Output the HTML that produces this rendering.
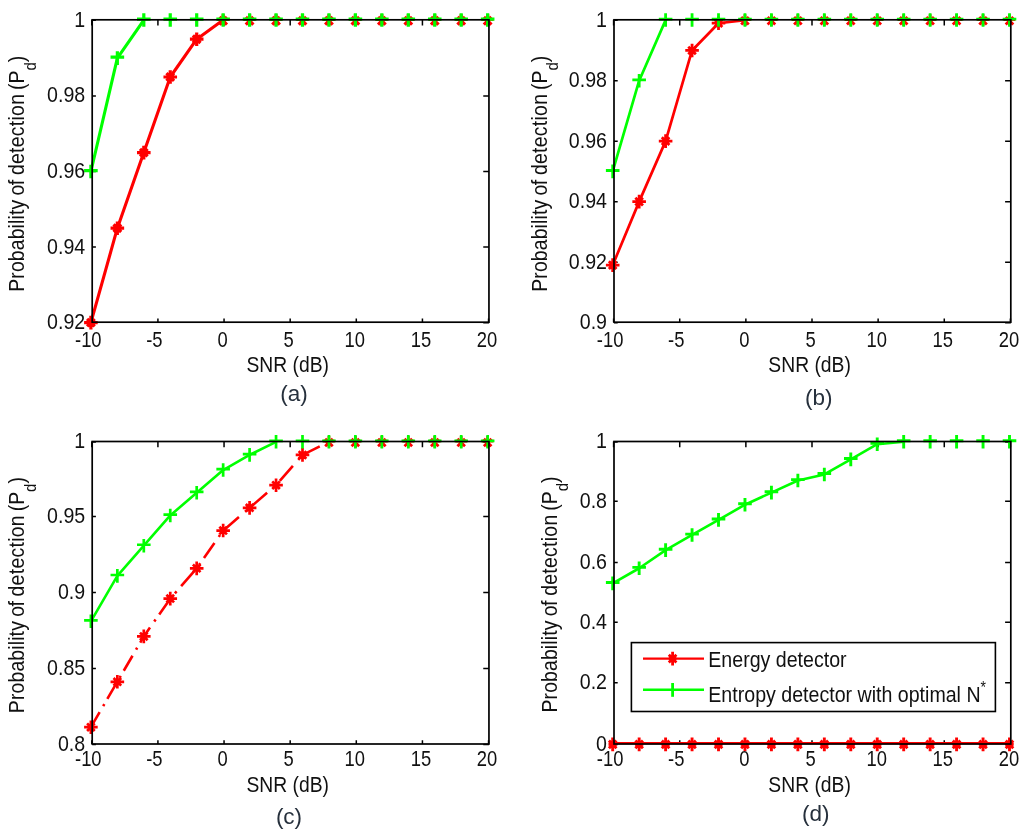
<!DOCTYPE html>
<html><head><meta charset="utf-8"><title>Probability of detection vs SNR</title>
<style>
html,body{margin:0;padding:0;background:#fff;}
body{width:1024px;height:836px;overflow:hidden;}
svg{display:block;will-change:transform;}
text{font-family:"Liberation Sans",sans-serif;fill:#111;}
</style></head><body>
<svg width="1024" height="836" viewBox="0 0 1024 836">
<rect width="1024" height="836" fill="#fff"/>
<g id="plot-a">
<path d="M91.8 322.2v-3.7 M91.8 19.8v5.7 M157.92 322.2v-3.7 M157.92 19.8v5.7 M224.05 322.2v-3.7 M224.05 19.8v5.7 M290.18 322.2v-3.7 M290.18 19.8v5.7 M356.3 322.2v-3.7 M356.3 19.8v5.7 M422.43 322.2v-3.7 M422.43 19.8v5.7 M488.55 322.2v-3.7 M488.55 19.8v5.7 M92.2 322.7h3.7 M488.95 322.7h-5.7 M92.2 247.1h3.7 M488.95 247.1h-5.7 M92.2 171.5h3.7 M488.95 171.5h-5.7 M92.2 95.9h3.7 M488.95 95.9h-5.7 M92.2 20.3h3.7 M488.95 20.3h-5.7" fill="none" stroke="#000" stroke-width="1.5"/>
<path d="M90.9 322.7 L117.35 228.2 L143.8 152.6 L170.25 77 L196.7 39.2 L223.15 20.1" fill="none" stroke="#ff0000" stroke-width="3.1" stroke-linejoin="round"/>
<path d="M90.9 171.5 L117.35 58.1 L143.8 20.1" fill="none" stroke="#00ff00" stroke-width="3.1" stroke-linejoin="round"/>
<path d="M90.9 315.8v13.6 M84.1 322.6h13.6 M87.1 318.8l7.6 7.6 M87.1 326.4l7.6 -7.6 M117.35 221.4v13.6 M110.55 228.2h13.6 M113.55 224.4l7.6 7.6 M113.55 232l7.6 -7.6 M143.8 145.8v13.6 M137 152.6h13.6 M140 148.8l7.6 7.6 M140 156.4l7.6 -7.6 M170.25 70.2v13.6 M163.45 77h13.6 M166.45 73.2l7.6 7.6 M166.45 80.8l7.6 -7.6 M196.7 32.4v13.6 M189.9 39.2h13.6 M192.9 35.4l7.6 7.6 M192.9 43l7.6 -7.6 M223.15 14.2v11.6 M217.35 19.5h11.6 M219.35 17l7.6 7.6 M219.35 24.6l7.6 -7.6 M249.6 14.2v11.6 M243.8 19.5h11.6 M245.8 17l7.6 7.6 M245.8 24.6l7.6 -7.6 M276.05 14.2v11.6 M270.25 19.5h11.6 M272.25 17l7.6 7.6 M272.25 24.6l7.6 -7.6 M302.5 14.2v11.6 M296.7 19.5h11.6 M298.7 17l7.6 7.6 M298.7 24.6l7.6 -7.6 M328.95 14.2v11.6 M323.15 19.5h11.6 M325.15 17l7.6 7.6 M325.15 24.6l7.6 -7.6 M355.4 14.2v11.6 M349.6 19.5h11.6 M351.6 17l7.6 7.6 M351.6 24.6l7.6 -7.6 M381.85 14.2v11.6 M376.05 19.5h11.6 M378.05 17l7.6 7.6 M378.05 24.6l7.6 -7.6 M408.3 14.2v11.6 M402.5 19.5h11.6 M404.5 17l7.6 7.6 M404.5 24.6l7.6 -7.6 M434.75 14.2v11.6 M428.95 19.5h11.6 M430.95 17l7.6 7.6 M430.95 24.6l7.6 -7.6 M461.2 14.2v11.6 M455.4 19.5h11.6 M457.4 17l7.6 7.6 M457.4 24.6l7.6 -7.6 M487.65 14.2v11.6 M481.85 19.5h11.6 M483.85 17l7.6 7.6 M483.85 24.6l7.6 -7.6" fill="none" stroke="#ff0000" stroke-width="3.2"/>
<path d="M90.9 164.7v13.6 M84.1 170.6h13.6 M117.35 51.3v13.6 M110.55 57.2h13.6 M143.8 13.2v13.6 M137 19.1h13.6 M170.25 13.2v13.6 M163.45 19.1h13.6 M196.7 13.2v13.6 M189.9 19.1h13.6 M223.15 13.2v13.6 M216.35 19.1h13.6 M249.6 13.2v13.6 M242.8 19.1h13.6 M276.05 13.2v13.6 M269.25 19.1h13.6 M302.5 13.2v13.6 M295.7 19.1h13.6 M328.95 13.2v13.6 M322.15 19.1h13.6 M355.4 13.2v13.6 M348.6 19.1h13.6 M381.85 13.2v13.6 M375.05 19.1h13.6 M408.3 13.2v13.6 M401.5 19.1h13.6 M434.75 13.2v13.6 M427.95 19.1h13.6 M461.2 13.2v13.6 M454.4 19.1h13.6 M487.65 13.2v13.6 M480.85 19.1h13.6" fill="none" stroke="#00ff00" stroke-width="3.2"/>
<rect x="92.2" y="19.8" width="396.75" height="302.4" fill="none" stroke="#000" stroke-width="1.7"/>
<text transform="translate(88.3 346.6) scale(1 1.17)" font-size="18.4" text-anchor="middle">-10</text>
<text transform="translate(154.42 346.6) scale(1 1.17)" font-size="18.4" text-anchor="middle">-5</text>
<text transform="translate(222.55 346.6) scale(1 1.17)" font-size="18.4" text-anchor="middle">0</text>
<text transform="translate(288.68 346.6) scale(1 1.17)" font-size="18.4" text-anchor="middle">5</text>
<text transform="translate(354.8 346.6) scale(1 1.17)" font-size="18.4" text-anchor="middle">10</text>
<text transform="translate(420.93 346.6) scale(1 1.17)" font-size="18.4" text-anchor="middle">15</text>
<text transform="translate(487.05 346.6) scale(1 1.17)" font-size="18.4" text-anchor="middle">20</text>
<text transform="translate(85.2 329.1) scale(1 1.16)" font-size="19.6" text-anchor="end">0.92</text>
<text transform="translate(85.2 253.5) scale(1 1.16)" font-size="19.6" text-anchor="end">0.94</text>
<text transform="translate(85.2 177.9) scale(1 1.16)" font-size="19.6" text-anchor="end">0.96</text>
<text transform="translate(85.2 102.3) scale(1 1.16)" font-size="19.6" text-anchor="end">0.98</text>
<text transform="translate(85.2 26.7) scale(1 1.16)" font-size="19.6" text-anchor="end">1</text>
<text transform="translate(287.77 372) scale(1 1.16)" font-size="19.3" text-anchor="middle">SNR (dB)</text>
<text transform="translate(294 401) scale(1 1.0)" font-size="22.5" text-anchor="middle" style="fill:#26303c">(a)</text>
<text transform="translate(24.4 291.8) rotate(-90) scale(1 1.12)" font-size="19.4" text-anchor="start"><tspan letter-spacing="0.15">Probability</tspan><tspan dx="-0.7" letter-spacing="-0.5"> of</tspan><tspan dx="-0.5" letter-spacing="0.3"> detection</tspan><tspan dx="-1.6"> (P</tspan><tspan font-size="15" dy="10">d</tspan><tspan dy="-10">)</tspan></text>
</g>
<g id="plot-b">
<path d="M613.6 322.2v-3.7 M613.6 19.8v5.7 M679.73 322.2v-3.7 M679.73 19.8v5.7 M745.87 322.2v-3.7 M745.87 19.8v5.7 M812 322.2v-3.7 M812 19.8v5.7 M878.13 322.2v-3.7 M878.13 19.8v5.7 M944.27 322.2v-3.7 M944.27 19.8v5.7 M1010.4 322.2v-3.7 M1010.4 19.8v5.7 M614 322.7h3.7 M1010.8 322.7h-5.7 M614 262.22h3.7 M1010.8 262.22h-5.7 M614 201.74h3.7 M1010.8 201.74h-5.7 M614 141.26h3.7 M1010.8 141.26h-5.7 M614 80.78h3.7 M1010.8 80.78h-5.7 M614 20.3h3.7 M1010.8 20.3h-5.7" fill="none" stroke="#000" stroke-width="1.5"/>
<path d="M612.7 265.14 L639.15 201.64 L665.61 141.16 L692.06 50.44 L718.51 23.22 L744.97 20.1" fill="none" stroke="#ff0000" stroke-width="2.7" stroke-linejoin="round"/>
<path d="M612.7 171.4 L639.15 80.68 L665.61 20.1" fill="none" stroke="#00ff00" stroke-width="2.7" stroke-linejoin="round"/>
<path d="M612.7 258.34v13.6 M605.9 265.14h13.6 M608.9 261.34l7.6 7.6 M608.9 268.94l7.6 -7.6 M639.15 194.84v13.6 M632.35 201.64h13.6 M635.35 197.84l7.6 7.6 M635.35 205.44l7.6 -7.6 M665.61 134.36v13.6 M658.81 141.16h13.6 M661.81 137.36l7.6 7.6 M661.81 144.96l7.6 -7.6 M692.06 43.64v13.6 M685.26 50.44h13.6 M688.26 46.64l7.6 7.6 M688.26 54.24l7.6 -7.6 M718.51 16.42v13.6 M711.71 23.22h13.6 M714.71 19.42l7.6 7.6 M714.71 27.02l7.6 -7.6 M744.97 14.2v11.6 M739.17 19.5h11.6 M741.17 17l7.6 7.6 M741.17 24.6l7.6 -7.6 M771.42 14.2v11.6 M765.62 19.5h11.6 M767.62 17l7.6 7.6 M767.62 24.6l7.6 -7.6 M797.87 14.2v11.6 M792.07 19.5h11.6 M794.07 17l7.6 7.6 M794.07 24.6l7.6 -7.6 M824.33 14.2v11.6 M818.53 19.5h11.6 M820.53 17l7.6 7.6 M820.53 24.6l7.6 -7.6 M850.78 14.2v11.6 M844.98 19.5h11.6 M846.98 17l7.6 7.6 M846.98 24.6l7.6 -7.6 M877.23 14.2v11.6 M871.43 19.5h11.6 M873.43 17l7.6 7.6 M873.43 24.6l7.6 -7.6 M903.69 14.2v11.6 M897.89 19.5h11.6 M899.89 17l7.6 7.6 M899.89 24.6l7.6 -7.6 M930.14 14.2v11.6 M924.34 19.5h11.6 M926.34 17l7.6 7.6 M926.34 24.6l7.6 -7.6 M956.59 14.2v11.6 M950.79 19.5h11.6 M952.79 17l7.6 7.6 M952.79 24.6l7.6 -7.6 M983.05 14.2v11.6 M977.25 19.5h11.6 M979.25 17l7.6 7.6 M979.25 24.6l7.6 -7.6 M1009.5 14.2v11.6 M1003.7 19.5h11.6 M1005.7 17l7.6 7.6 M1005.7 24.6l7.6 -7.6" fill="none" stroke="#ff0000" stroke-width="2.8"/>
<path d="M612.7 164.6v13.6 M605.9 170.5h13.6 M639.15 73.88v13.6 M632.35 79.78h13.6 M665.61 13.2v13.6 M658.81 19.1h13.6 M692.06 13.2v13.6 M685.26 19.1h13.6 M718.51 13.2v13.6 M711.71 19.1h13.6 M744.97 13.2v13.6 M738.17 19.1h13.6 M771.42 13.2v13.6 M764.62 19.1h13.6 M797.87 13.2v13.6 M791.07 19.1h13.6 M824.33 13.2v13.6 M817.53 19.1h13.6 M850.78 13.2v13.6 M843.98 19.1h13.6 M877.23 13.2v13.6 M870.43 19.1h13.6 M903.69 13.2v13.6 M896.89 19.1h13.6 M930.14 13.2v13.6 M923.34 19.1h13.6 M956.59 13.2v13.6 M949.79 19.1h13.6 M983.05 13.2v13.6 M976.25 19.1h13.6 M1009.5 13.2v13.6 M1002.7 19.1h13.6" fill="none" stroke="#00ff00" stroke-width="2.8"/>
<rect x="614" y="19.8" width="396.8" height="302.4" fill="none" stroke="#000" stroke-width="1.7"/>
<text transform="translate(610.1 346.6) scale(1 1.17)" font-size="18.4" text-anchor="middle">-10</text>
<text transform="translate(676.23 346.6) scale(1 1.17)" font-size="18.4" text-anchor="middle">-5</text>
<text transform="translate(744.37 346.6) scale(1 1.17)" font-size="18.4" text-anchor="middle">0</text>
<text transform="translate(810.5 346.6) scale(1 1.17)" font-size="18.4" text-anchor="middle">5</text>
<text transform="translate(876.63 346.6) scale(1 1.17)" font-size="18.4" text-anchor="middle">10</text>
<text transform="translate(942.77 346.6) scale(1 1.17)" font-size="18.4" text-anchor="middle">15</text>
<text transform="translate(1008.9 346.6) scale(1 1.17)" font-size="18.4" text-anchor="middle">20</text>
<text transform="translate(607 329.1) scale(1 1.16)" font-size="19.6" text-anchor="end">0.9</text>
<text transform="translate(607 268.62) scale(1 1.16)" font-size="19.6" text-anchor="end">0.92</text>
<text transform="translate(607 208.14) scale(1 1.16)" font-size="19.6" text-anchor="end">0.94</text>
<text transform="translate(607 147.66) scale(1 1.16)" font-size="19.6" text-anchor="end">0.96</text>
<text transform="translate(607 87.18) scale(1 1.16)" font-size="19.6" text-anchor="end">0.98</text>
<text transform="translate(607 26.7) scale(1 1.16)" font-size="19.6" text-anchor="end">1</text>
<text transform="translate(809.6 372) scale(1 1.16)" font-size="19.3" text-anchor="middle">SNR (dB)</text>
<text transform="translate(818.8 404.5) scale(1 1.0)" font-size="22.5" text-anchor="middle" style="fill:#26303c">(b)</text>
<text transform="translate(546.6 291.8) rotate(-90) scale(1 1.12)" font-size="19.4" text-anchor="start"><tspan letter-spacing="0.15">Probability</tspan><tspan dx="-0.7" letter-spacing="-0.5"> of</tspan><tspan dx="-0.5" letter-spacing="0.3"> detection</tspan><tspan dx="-1.6"> (P</tspan><tspan font-size="15" dy="10">d</tspan><tspan dy="-10">)</tspan></text>
</g>
<g id="plot-c">
<path d="M91.8 744v-3.7 M91.8 441.5v5.7 M157.92 744v-3.7 M157.92 441.5v5.7 M224.05 744v-3.7 M224.05 441.5v5.7 M290.18 744v-3.7 M290.18 441.5v5.7 M356.3 744v-3.7 M356.3 441.5v5.7 M422.43 744v-3.7 M422.43 441.5v5.7 M488.55 744v-3.7 M488.55 441.5v5.7 M92.2 744.5h3.7 M488.95 744.5h-5.7 M92.2 668.4h3.7 M488.95 668.4h-5.7 M92.2 592.5h3.7 M488.95 592.5h-5.7 M92.2 516.4h3.7 M488.95 516.4h-5.7 M92.2 442h3.7 M488.95 442h-5.7" fill="none" stroke="#000" stroke-width="1.5"/>
<path d="M90.9 727.17L99.64 712.17 M103.2 706.07L104.31 704.17 M107.34 698.97L116.08 683.97 M119.64 677.88L120.75 675.97 M123.78 670.77L132.52 655.77 M136.08 649.67L137.18 647.77 M140.22 642.57L143.8 636.42 M143.8 636.42L149.99 627.57 M154.26 621.47L155.59 619.57 M159.22 614.38L169.72 599.38 M174.92 593.27L176.58 591.38 M181.13 586.17L194.24 571.17 M199 565.07L200.33 563.17 M203.97 557.97L214.46 542.97 M218.73 536.88L220.05 534.97 M223.93 529.89L238.93 517.02 M245.03 511.79L246.93 510.16 M252.13 505.7L267.13 492.83 M273.23 487.6L275.13 485.97 M279.79 480.9L292.9 465.9 M298.24 459.8L299.9 457.9 M304.73 453.82L319.73 446.38 M325.83 443.35L327.73 442.41" fill="none" stroke="#ff0000" stroke-width="2.6" stroke-linejoin="round"/>
<path d="M90.9 621.3 L117.35 575.92 L143.8 545.67 L170.25 515.43 L196.7 492.74 L223.15 470.05 L249.6 454.93 L276.05 441.8" fill="none" stroke="#00ff00" stroke-width="2.6" stroke-linejoin="round"/>
<path d="M90.9 720.38v13.6 M84.1 727.17h13.6 M87.1 723.38l7.6 7.6 M87.1 730.97l7.6 -7.6 M117.35 675v13.6 M110.55 681.8h13.6 M113.55 678l7.6 7.6 M113.55 685.6l7.6 -7.6 M143.8 629.62v13.6 M137 636.42h13.6 M140 632.62l7.6 7.6 M140 640.22l7.6 -7.6 M170.25 591.81v13.6 M163.45 598.61h13.6 M166.45 594.81l7.6 7.6 M166.45 602.41l7.6 -7.6 M196.7 561.56v13.6 M189.9 568.36h13.6 M192.9 564.56l7.6 7.6 M192.9 572.16l7.6 -7.6 M223.15 523.75v13.6 M216.35 530.55h13.6 M219.35 526.75l7.6 7.6 M219.35 534.35l7.6 -7.6 M249.6 501.06v13.6 M242.8 507.86h13.6 M245.8 504.06l7.6 7.6 M245.8 511.66l7.6 -7.6 M276.05 478.38v13.6 M269.25 485.18h13.6 M272.25 481.38l7.6 7.6 M272.25 488.98l7.6 -7.6 M302.5 448.12v13.6 M295.7 454.93h13.6 M298.7 451.12l7.6 7.6 M298.7 458.73l7.6 -7.6 M328.95 435.9v11.6 M323.15 441.2h11.6 M325.15 438.7l7.6 7.6 M325.15 446.3l7.6 -7.6 M355.4 435.9v11.6 M349.6 441.2h11.6 M351.6 438.7l7.6 7.6 M351.6 446.3l7.6 -7.6 M381.85 435.9v11.6 M376.05 441.2h11.6 M378.05 438.7l7.6 7.6 M378.05 446.3l7.6 -7.6 M408.3 435.9v11.6 M402.5 441.2h11.6 M404.5 438.7l7.6 7.6 M404.5 446.3l7.6 -7.6 M434.75 435.9v11.6 M428.95 441.2h11.6 M430.95 438.7l7.6 7.6 M430.95 446.3l7.6 -7.6 M461.2 435.9v11.6 M455.4 441.2h11.6 M457.4 438.7l7.6 7.6 M457.4 446.3l7.6 -7.6 M487.65 435.9v11.6 M481.85 441.2h11.6 M483.85 438.7l7.6 7.6 M483.85 446.3l7.6 -7.6" fill="none" stroke="#ff0000" stroke-width="2.7"/>
<path d="M90.9 614.5v13.6 M84.1 620.4h13.6 M117.35 569.12v13.6 M110.55 575.02h13.6 M143.8 538.88v13.6 M137 544.77h13.6 M170.25 508.63v13.6 M163.45 514.53h13.6 M196.7 485.94v13.6 M189.9 491.84h13.6 M223.15 463.25v13.6 M216.35 469.15h13.6 M249.6 448.12v13.6 M242.8 454.03h13.6 M276.05 434.9v13.6 M269.25 440.8h13.6 M302.5 434.9v13.6 M295.7 440.8h13.6 M328.95 434.9v13.6 M322.15 440.8h13.6 M355.4 434.9v13.6 M348.6 440.8h13.6 M381.85 434.9v13.6 M375.05 440.8h13.6 M408.3 434.9v13.6 M401.5 440.8h13.6 M434.75 434.9v13.6 M427.95 440.8h13.6 M461.2 434.9v13.6 M454.4 440.8h13.6 M487.65 434.9v13.6 M480.85 440.8h13.6" fill="none" stroke="#00ff00" stroke-width="2.7"/>
<rect x="92.2" y="441.5" width="396.75" height="302.5" fill="none" stroke="#000" stroke-width="1.7"/>
<text transform="translate(88.3 766.3) scale(1 1.17)" font-size="18.4" text-anchor="middle">-10</text>
<text transform="translate(154.42 766.3) scale(1 1.17)" font-size="18.4" text-anchor="middle">-5</text>
<text transform="translate(222.55 766.3) scale(1 1.17)" font-size="18.4" text-anchor="middle">0</text>
<text transform="translate(288.68 766.3) scale(1 1.17)" font-size="18.4" text-anchor="middle">5</text>
<text transform="translate(354.8 766.3) scale(1 1.17)" font-size="18.4" text-anchor="middle">10</text>
<text transform="translate(420.93 766.3) scale(1 1.17)" font-size="18.4" text-anchor="middle">15</text>
<text transform="translate(487.05 766.3) scale(1 1.17)" font-size="18.4" text-anchor="middle">20</text>
<text transform="translate(85.2 750.9) scale(1 1.16)" font-size="19.6" text-anchor="end">0.8</text>
<text transform="translate(85.2 674.8) scale(1 1.16)" font-size="19.6" text-anchor="end">0.85</text>
<text transform="translate(85.2 598.9) scale(1 1.16)" font-size="19.6" text-anchor="end">0.9</text>
<text transform="translate(85.2 522.8) scale(1 1.16)" font-size="19.6" text-anchor="end">0.95</text>
<text transform="translate(85.2 448.4) scale(1 1.16)" font-size="19.6" text-anchor="end">1</text>
<text transform="translate(287.77 791.9) scale(1 1.16)" font-size="19.3" text-anchor="middle">SNR (dB)</text>
<text transform="translate(289 823.9) scale(1 1.0)" font-size="22.5" text-anchor="middle" style="fill:#26303c">(c)</text>
<text transform="translate(24.4 713.15) rotate(-90) scale(1 1.12)" font-size="19.4" text-anchor="start"><tspan letter-spacing="0.15">Probability</tspan><tspan dx="-0.7" letter-spacing="-0.5"> of</tspan><tspan dx="-0.5" letter-spacing="0.3"> detection</tspan><tspan dx="-1.6"> (P</tspan><tspan font-size="15" dy="10">d</tspan><tspan dy="-10">)</tspan></text>
</g>
<g id="plot-d">
<path d="M613.6 744v-3.7 M613.6 441.5v5.7 M679.73 744v-3.7 M679.73 441.5v5.7 M745.87 744v-3.7 M745.87 441.5v5.7 M812 744v-3.7 M812 441.5v5.7 M878.13 744v-3.7 M878.13 441.5v5.7 M944.27 744v-3.7 M944.27 441.5v5.7 M1010.4 744v-3.7 M1010.4 441.5v5.7 M614 744.5h3.7 M1010.8 744.5h-5.7 M614 682.7h3.7 M1010.8 682.7h-5.7 M614 622.3h3.7 M1010.8 622.3h-5.7 M614 562.5h3.7 M1010.8 562.5h-5.7 M614 501.3h3.7 M1010.8 501.3h-5.7 M614 442h3.7 M1010.8 442h-5.7" fill="none" stroke="#000" stroke-width="1.5"/>
<path d="M614 743.1 L1010.8 743.1" stroke="#ff0000" stroke-width="2.4" fill="none"/>
<path d="M612.7 583.38 L639.15 568.25 L665.61 550.1 L692.06 534.98 L718.51 519.85 L744.97 504.72 L771.42 492.62 L797.87 480.52 L824.33 474.47 L850.78 459.35 L877.23 444.22 L903.69 441.8" fill="none" stroke="#00ff00" stroke-width="2.6" stroke-linejoin="round"/>
<path d="M612.7 737.6v13.6 M608.5 744.4h8.4 M608.9 740.6l7.6 7.6 M608.9 748.2l7.6 -7.6 M639.15 737.6v13.6 M634.95 744.4h8.4 M635.35 740.6l7.6 7.6 M635.35 748.2l7.6 -7.6 M665.61 737.6v13.6 M661.41 744.4h8.4 M661.81 740.6l7.6 7.6 M661.81 748.2l7.6 -7.6 M692.06 737.6v13.6 M687.86 744.4h8.4 M688.26 740.6l7.6 7.6 M688.26 748.2l7.6 -7.6 M718.51 737.6v13.6 M714.31 744.4h8.4 M714.71 740.6l7.6 7.6 M714.71 748.2l7.6 -7.6 M744.97 737.6v13.6 M740.77 744.4h8.4 M741.17 740.6l7.6 7.6 M741.17 748.2l7.6 -7.6 M771.42 737.6v13.6 M767.22 744.4h8.4 M767.62 740.6l7.6 7.6 M767.62 748.2l7.6 -7.6 M797.87 737.6v13.6 M793.67 744.4h8.4 M794.07 740.6l7.6 7.6 M794.07 748.2l7.6 -7.6 M824.33 737.6v13.6 M820.13 744.4h8.4 M820.53 740.6l7.6 7.6 M820.53 748.2l7.6 -7.6 M850.78 737.6v13.6 M846.58 744.4h8.4 M846.98 740.6l7.6 7.6 M846.98 748.2l7.6 -7.6 M877.23 737.6v13.6 M873.03 744.4h8.4 M873.43 740.6l7.6 7.6 M873.43 748.2l7.6 -7.6 M903.69 737.6v13.6 M899.49 744.4h8.4 M899.89 740.6l7.6 7.6 M899.89 748.2l7.6 -7.6 M930.14 737.6v13.6 M925.94 744.4h8.4 M926.34 740.6l7.6 7.6 M926.34 748.2l7.6 -7.6 M956.59 737.6v13.6 M952.39 744.4h8.4 M952.79 740.6l7.6 7.6 M952.79 748.2l7.6 -7.6 M983.05 737.6v13.6 M978.85 744.4h8.4 M979.25 740.6l7.6 7.6 M979.25 748.2l7.6 -7.6 M1009.5 737.6v13.6 M1005.3 744.4h8.4 M1005.7 740.6l7.6 7.6 M1005.7 748.2l7.6 -7.6" fill="none" stroke="#ff0000" stroke-width="2.9"/>
<path d="M612.7 576.58v13.6 M605.9 582.48h13.6 M639.15 561.45v13.6 M632.35 567.35h13.6 M665.61 543.3v13.6 M658.81 549.2h13.6 M692.06 528.18v13.6 M685.26 534.08h13.6 M718.51 513.05v13.6 M711.71 518.95h13.6 M744.97 497.92v13.6 M738.17 503.82h13.6 M771.42 485.82v13.6 M764.62 491.73h13.6 M797.87 473.72v13.6 M791.07 479.62h13.6 M824.33 467.67v13.6 M817.53 473.57h13.6 M850.78 452.55v13.6 M843.98 458.45h13.6 M877.23 437.42v13.6 M870.43 443.32h13.6 M903.69 434.9v13.6 M896.89 440.8h13.6 M930.14 434.9v13.6 M923.34 440.8h13.6 M956.59 434.9v13.6 M949.79 440.8h13.6 M983.05 434.9v13.6 M976.25 440.8h13.6 M1009.5 434.9v13.6 M1002.7 440.8h13.6" fill="none" stroke="#00ff00" stroke-width="2.9"/>
<rect x="614" y="441.5" width="396.8" height="302.5" fill="none" stroke="#000" stroke-width="1.7"/>
<text transform="translate(610.1 766.3) scale(1 1.17)" font-size="18.4" text-anchor="middle">-10</text>
<text transform="translate(676.23 766.3) scale(1 1.17)" font-size="18.4" text-anchor="middle">-5</text>
<text transform="translate(744.37 766.3) scale(1 1.17)" font-size="18.4" text-anchor="middle">0</text>
<text transform="translate(810.5 766.3) scale(1 1.17)" font-size="18.4" text-anchor="middle">5</text>
<text transform="translate(876.63 766.3) scale(1 1.17)" font-size="18.4" text-anchor="middle">10</text>
<text transform="translate(942.77 766.3) scale(1 1.17)" font-size="18.4" text-anchor="middle">15</text>
<text transform="translate(1008.9 766.3) scale(1 1.17)" font-size="18.4" text-anchor="middle">20</text>
<text transform="translate(607 750.9) scale(1 1.16)" font-size="19.6" text-anchor="end">0</text>
<text transform="translate(607 689.1) scale(1 1.16)" font-size="19.6" text-anchor="end">0.2</text>
<text transform="translate(607 628.7) scale(1 1.16)" font-size="19.6" text-anchor="end">0.4</text>
<text transform="translate(607 568.9) scale(1 1.16)" font-size="19.6" text-anchor="end">0.6</text>
<text transform="translate(607 507.7) scale(1 1.16)" font-size="19.6" text-anchor="end">0.8</text>
<text transform="translate(607 448.4) scale(1 1.16)" font-size="19.6" text-anchor="end">1</text>
<text transform="translate(809.6 791.9) scale(1 1.16)" font-size="19.3" text-anchor="middle">SNR (dB)</text>
<text transform="translate(815.8 820.9) scale(1 1.0)" font-size="22.5" text-anchor="middle" style="fill:#26303c">(d)</text>
<text transform="translate(557.2 712.55) rotate(-90) scale(1 1.12)" font-size="19.4" text-anchor="start"><tspan letter-spacing="0.15">Probability</tspan><tspan dx="-0.7" letter-spacing="-0.5"> of</tspan><tspan dx="-0.5" letter-spacing="0.3"> detection</tspan><tspan dx="-1.6"> (P</tspan><tspan font-size="15" dy="10">d</tspan><tspan dy="-10">)</tspan></text>
</g>
<g id="legend">
<rect x="631.4" y="642.6" width="364" height="68.9" fill="#fff" stroke="#000" stroke-width="1.6"/>
<path d="M643 658.6H704" stroke="#ff0000" stroke-width="2.4"/>
<path d="M672.6 651.8v13.6 M668.8 658.6h7.6 M668.8 654.8l7.6 7.6 M668.8 662.4l7.6 -7.6" stroke="#ff0000" stroke-width="2.8" fill="none"/>
<path d="M643 689.8H704" stroke="#00ff00" stroke-width="2.4"/>
<path d="M672.6 683v13.8" stroke="#00ff00" stroke-width="2.8"/>
<text transform="translate(708.3 667.4) scale(1 1.16)" font-size="19.6" text-anchor="start">Energy detector</text>
<text transform="translate(708.3 702.2) scale(1 1.16)" font-size="19.6" text-anchor="start">Entropy detector with optimal N<tspan font-size="14" dy="-8">*</tspan></text>
</g>
</svg>
</body></html>
